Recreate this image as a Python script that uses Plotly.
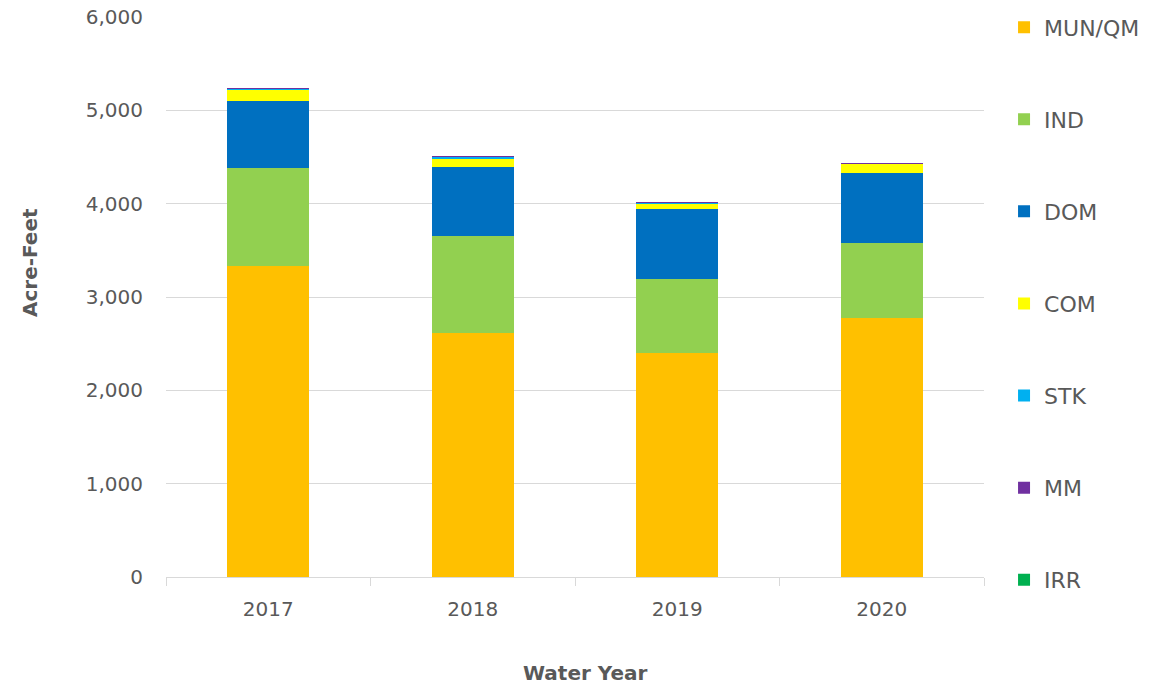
import plotly.graph_objects as go

years = ["2017", "2018", "2019", "2020"]
series_names = ["MUN/QM", "IND", "DOM", "COM", "STK", "MM", "IRR"]
mun = [3330, 2615, 2400, 2775]
ind = [1050, 1040, 795, 805]
dom = [722, 742, 750, 746]
com = [118, 86, 53, 100]
stk = [16, 20, 11, 8]
mm = [1, 1, 1, 1]
irr = [0, 0, 0, 0]
colors = ["#FFC000", "#92D050", "#0070C0", "#FFFF00", "#00B0F0", "#7030A0", "#00B050"]
values = [mun, ind, dom, com, stk, mm, irr]

FONT = "DejaVu Sans"
GREY = "#595959"

fig = go.Figure()
for i, (name, vals, col) in enumerate(zip(series_names, values, colors)):
    fig.add_trace(go.Bar(
        x=years, y=vals, name=name, marker=dict(color=col, line=dict(width=0)),
        legendgroup=name,
    ))

fig.update_layout(
    barmode="stack",
    bargap=0.6,
    width=1154, height=690,
    margin=dict(l=166, r=170, t=17, b=113, autoexpand=False),
    plot_bgcolor="white", paper_bgcolor="white",
    font=dict(family=FONT, color=GREY, size=20),
    legend=dict(
        x=1.0245, xanchor="left", y=1.019, yanchor="top",
        traceorder="grouped", tracegroupgap=60.5, maxheight=1,
        font=dict(family=FONT, size=22, color=GREY),
        itemwidth=30,
    ),
    xaxis=dict(
        type="category", automargin=False,
        showline=True, linecolor="#d9d9d9", linewidth=1,
        ticks="outside", tickson="boundaries", ticklen=8, tickcolor="#d9d9d9",
        ticklabelstandoff=14,
        tickfont=dict(family=FONT, size=20, color=GREY),
    ),
    yaxis=dict(
        range=[0, 6000], dtick=1000, tickformat=",", automargin=False,
        showgrid=True, gridcolor="#d9d9d9", gridwidth=1,
        zeroline=False, showline=False,
        ticks="", ticklen=0, ticklabelstandoff=22,
        tickfont=dict(family=FONT, size=20, color=GREY),
    ),
    annotations=[
        dict(text="<b>Water Year</b>", xref="paper", yref="paper",
             x=0.513, y=-0.171, xanchor="center", yanchor="middle",
             showarrow=False, font=dict(family=FONT, size=20, color=GREY)),
        dict(text="<b>Acre-Feet</b>", xref="paper", yref="paper",
             x=-0.166, y=0.561, xanchor="center", yanchor="middle", textangle=-90,
             showarrow=False, font=dict(family=FONT, size=20, color=GREY)),
    ],
)

fig.write_html("out.html", config={"displayModeBar": False},
               post_script="document.body.style.margin='0';")
